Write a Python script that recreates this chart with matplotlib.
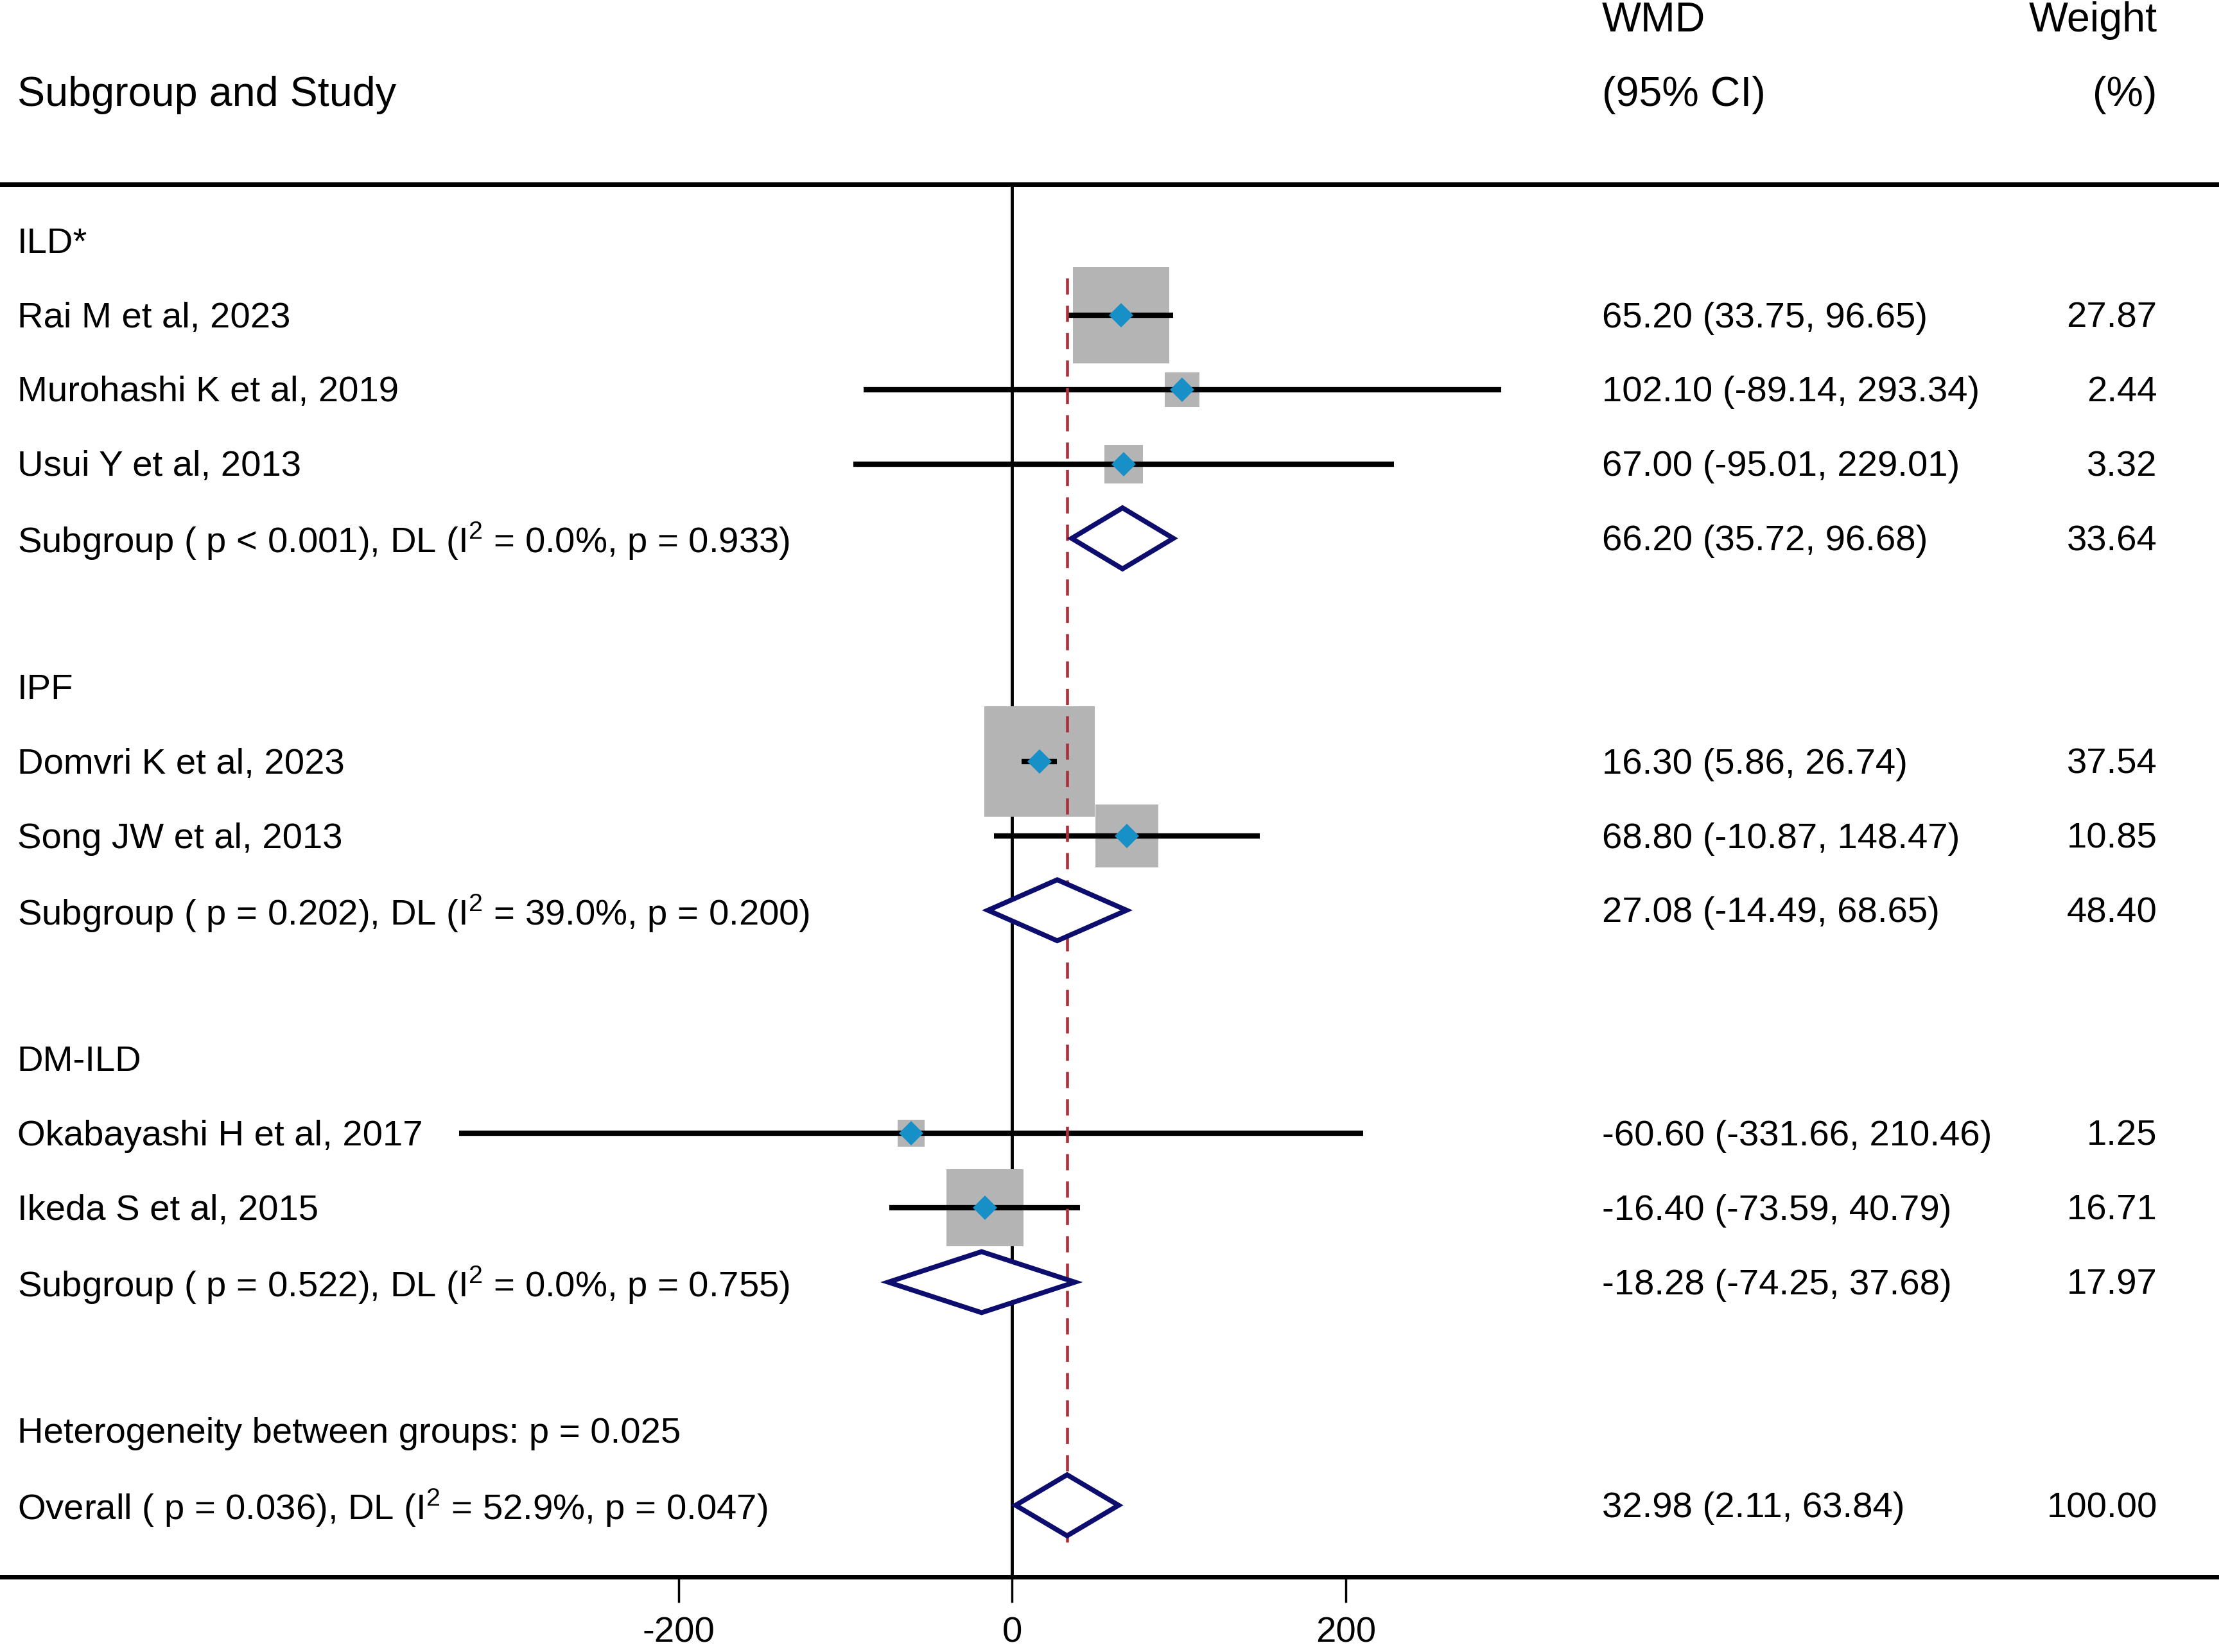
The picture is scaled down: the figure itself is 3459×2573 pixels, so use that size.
import matplotlib
matplotlib.use('Agg')
import matplotlib.pyplot as plt
import numpy as np

plt.rcParams['font.family'] = ['Liberation Sans', 'DejaVu Sans']
plt.rcParams['mathtext.fontset'] = 'custom'
plt.rcParams['mathtext.rm'] = 'Liberation Sans'

# study level data
groups = ['ILD*', 'IPF', 'DM-ILD']
studies = [
	['Rai M et al, 2023', 'Murohashi K et al, 2019', 'Usui Y et al, 2013'],
	['Domvri K et al, 2023', 'Song JW et al, 2013'],
	['Okabayashi H et al, 2017', 'Ikeda S et al, 2015'],
]
wmd = [[65.20, 102.10, 67.00], [16.30, 68.80], [-60.60, -16.40]]
ci_low = [[33.75, -89.14, -95.01], [5.86, -10.87], [-331.66, -73.59]]
ci_high = [[96.65, 293.34, 229.01], [26.74, 148.47], [210.46, 40.79]]
weights = [[27.87, 2.44, 3.32], [37.54, 10.85], [1.25, 16.71]]

# subgroup pooled estimates
sub_wmd = [66.20, 27.08, -18.28]
sub_low = [35.72, -14.49, -74.25]
sub_high = [96.68, 68.65, 37.68]
sub_weight = [33.64, 48.40, 17.97]
sub_labels = [
	'Subgroup ( p < 0.001), DL (I$^{2}$ = 0.0%, p = 0.933)',
	'Subgroup ( p = 0.202), DL (I$^{2}$ = 39.0%, p = 0.200)',
	'Subgroup ( p = 0.522), DL (I$^{2}$ = 0.0%, p = 0.755)',
]

het_label = 'Heterogeneity between groups: p = 0.025'
overall_label = 'Overall ( p = 0.036), DL (I$^{2}$ = 52.9%, p = 0.047)'
overall_wmd = 32.98
overall_low = 2.11
overall_high = 63.84
overall_weight = 100.00

x_ticks = [-200, 0, 200]

FONT = 40.5
HEAD_FONT = 46.5
PX = 1.588  # one reference pixel (display scale) in points
DY = 0.04   # small downward nudge so text sits on the row centre
GREY = '#b4b4b4'
BLUE = '#1790c8'
NAVY = '#0d0d6e'
RED = '#a8323c'

fig = plt.figure(figsize=(34.59, 25.73), dpi=100)
ax = fig.add_axes([0.0, 0.0455, 1.0, 0.9545])

y_bottom = (1113 - 170) / 52.5
y_top = -170 / 52.5
ax.set_ylim(y_bottom, y_top)
ax.set_xlim(-606.8, 724.8)

tr = ax.get_yaxis_transform()
X_LEFT = 0.0077
X_CI = 0.7213
X_W = 0.9713

def ci_text(est, lo, hi):
	return '%.2f (%.2f, %.2f)' % (est, lo, hi)

def put(x, y, s, ha='left', size=FONT):
	ax.text(x, y + DY, s, transform=tr, ha=ha, va='center', fontsize=size)

def draw_diamond(y, est, lo, hi):
	h = 0.41
	xs = [lo, est, hi, est, lo]
	ys = [y, y - h, y, y + h, y]
	ax.fill(xs, ys, facecolor='white', edgecolor=NAVY, linewidth=5.5, zorder=4)

# header
put(X_CI, -3, 'WMD', size=HEAD_FONT)
put(X_W, -3, 'Weight', ha='right', size=HEAD_FONT)
put(X_LEFT, -2, 'Subgroup and Study', size=HEAD_FONT)
put(X_CI, -2, '(95% CI)', size=HEAD_FONT)
put(X_W, -2, '(%)', ha='right', size=HEAD_FONT)

row = 0
for g in range(len(groups)):
	put(X_LEFT, row, groups[g])
	row += 1
	for i in range(len(studies[g])):
		w = weights[g][i]
		side = (5.8 + 11.8 * np.sqrt(w)) * PX
		ax.scatter([wmd[g][i]], [row], marker='s', s=side ** 2, color=GREY, linewidths=0, zorder=2)
		ax.hlines(row, ci_low[g][i], ci_high[g][i], color='black', linewidth=6, zorder=3)
		ax.plot([wmd[g][i]], [row], marker='D', markersize=19, color=BLUE, markeredgewidth=0, zorder=5)
		put(X_LEFT, row, studies[g][i])
		put(X_CI, row, ci_text(wmd[g][i], ci_low[g][i], ci_high[g][i]))
		put(X_W, row, '%.2f' % w, ha='right')
		row += 1
	draw_diamond(row, sub_wmd[g], sub_low[g], sub_high[g])
	put(X_LEFT, row, sub_labels[g])
	put(X_CI, row, ci_text(sub_wmd[g], sub_low[g], sub_high[g]))
	put(X_W, row, '%.2f' % sub_weight[g], ha='right')
	row += 2

put(X_LEFT, row, het_label)
row += 1
draw_diamond(row, overall_wmd, overall_low, overall_high)
put(X_LEFT, row, overall_label)
put(X_CI, row, ci_text(overall_wmd, overall_low, overall_high))
put(X_W, row, '%.2f' % overall_weight, ha='right')

# reference lines
top_line = (130 - 170) / 52.5
ax.axhline(top_line, xmin=0, xmax=0.998, color='black', linewidth=5, zorder=1)
ax.vlines(0, top_line, y_bottom, color='black', linewidth=3.5, zorder=1)
ax.vlines(overall_wmd, 0.5, row + 0.5, color=RED, linewidth=3.3, linestyles=(0, (5.5, 3.8)), zorder=3.5)

for s in ['top', 'left', 'right']:
	ax.spines[s].set_visible(False)
ax.spines['bottom'].set_linewidth(5)
ax.spines['bottom'].set_bounds(-606.8, 722.0)
ax.set_yticks([])
ax.set_xticks(x_ticks)
ax.set_xticklabels([str(t) for t in x_ticks])
ax.tick_params(axis='x', direction='out', length=29, width=2.5, pad=15, labelsize=FONT)

fig.savefig('out.png', dpi=100)
